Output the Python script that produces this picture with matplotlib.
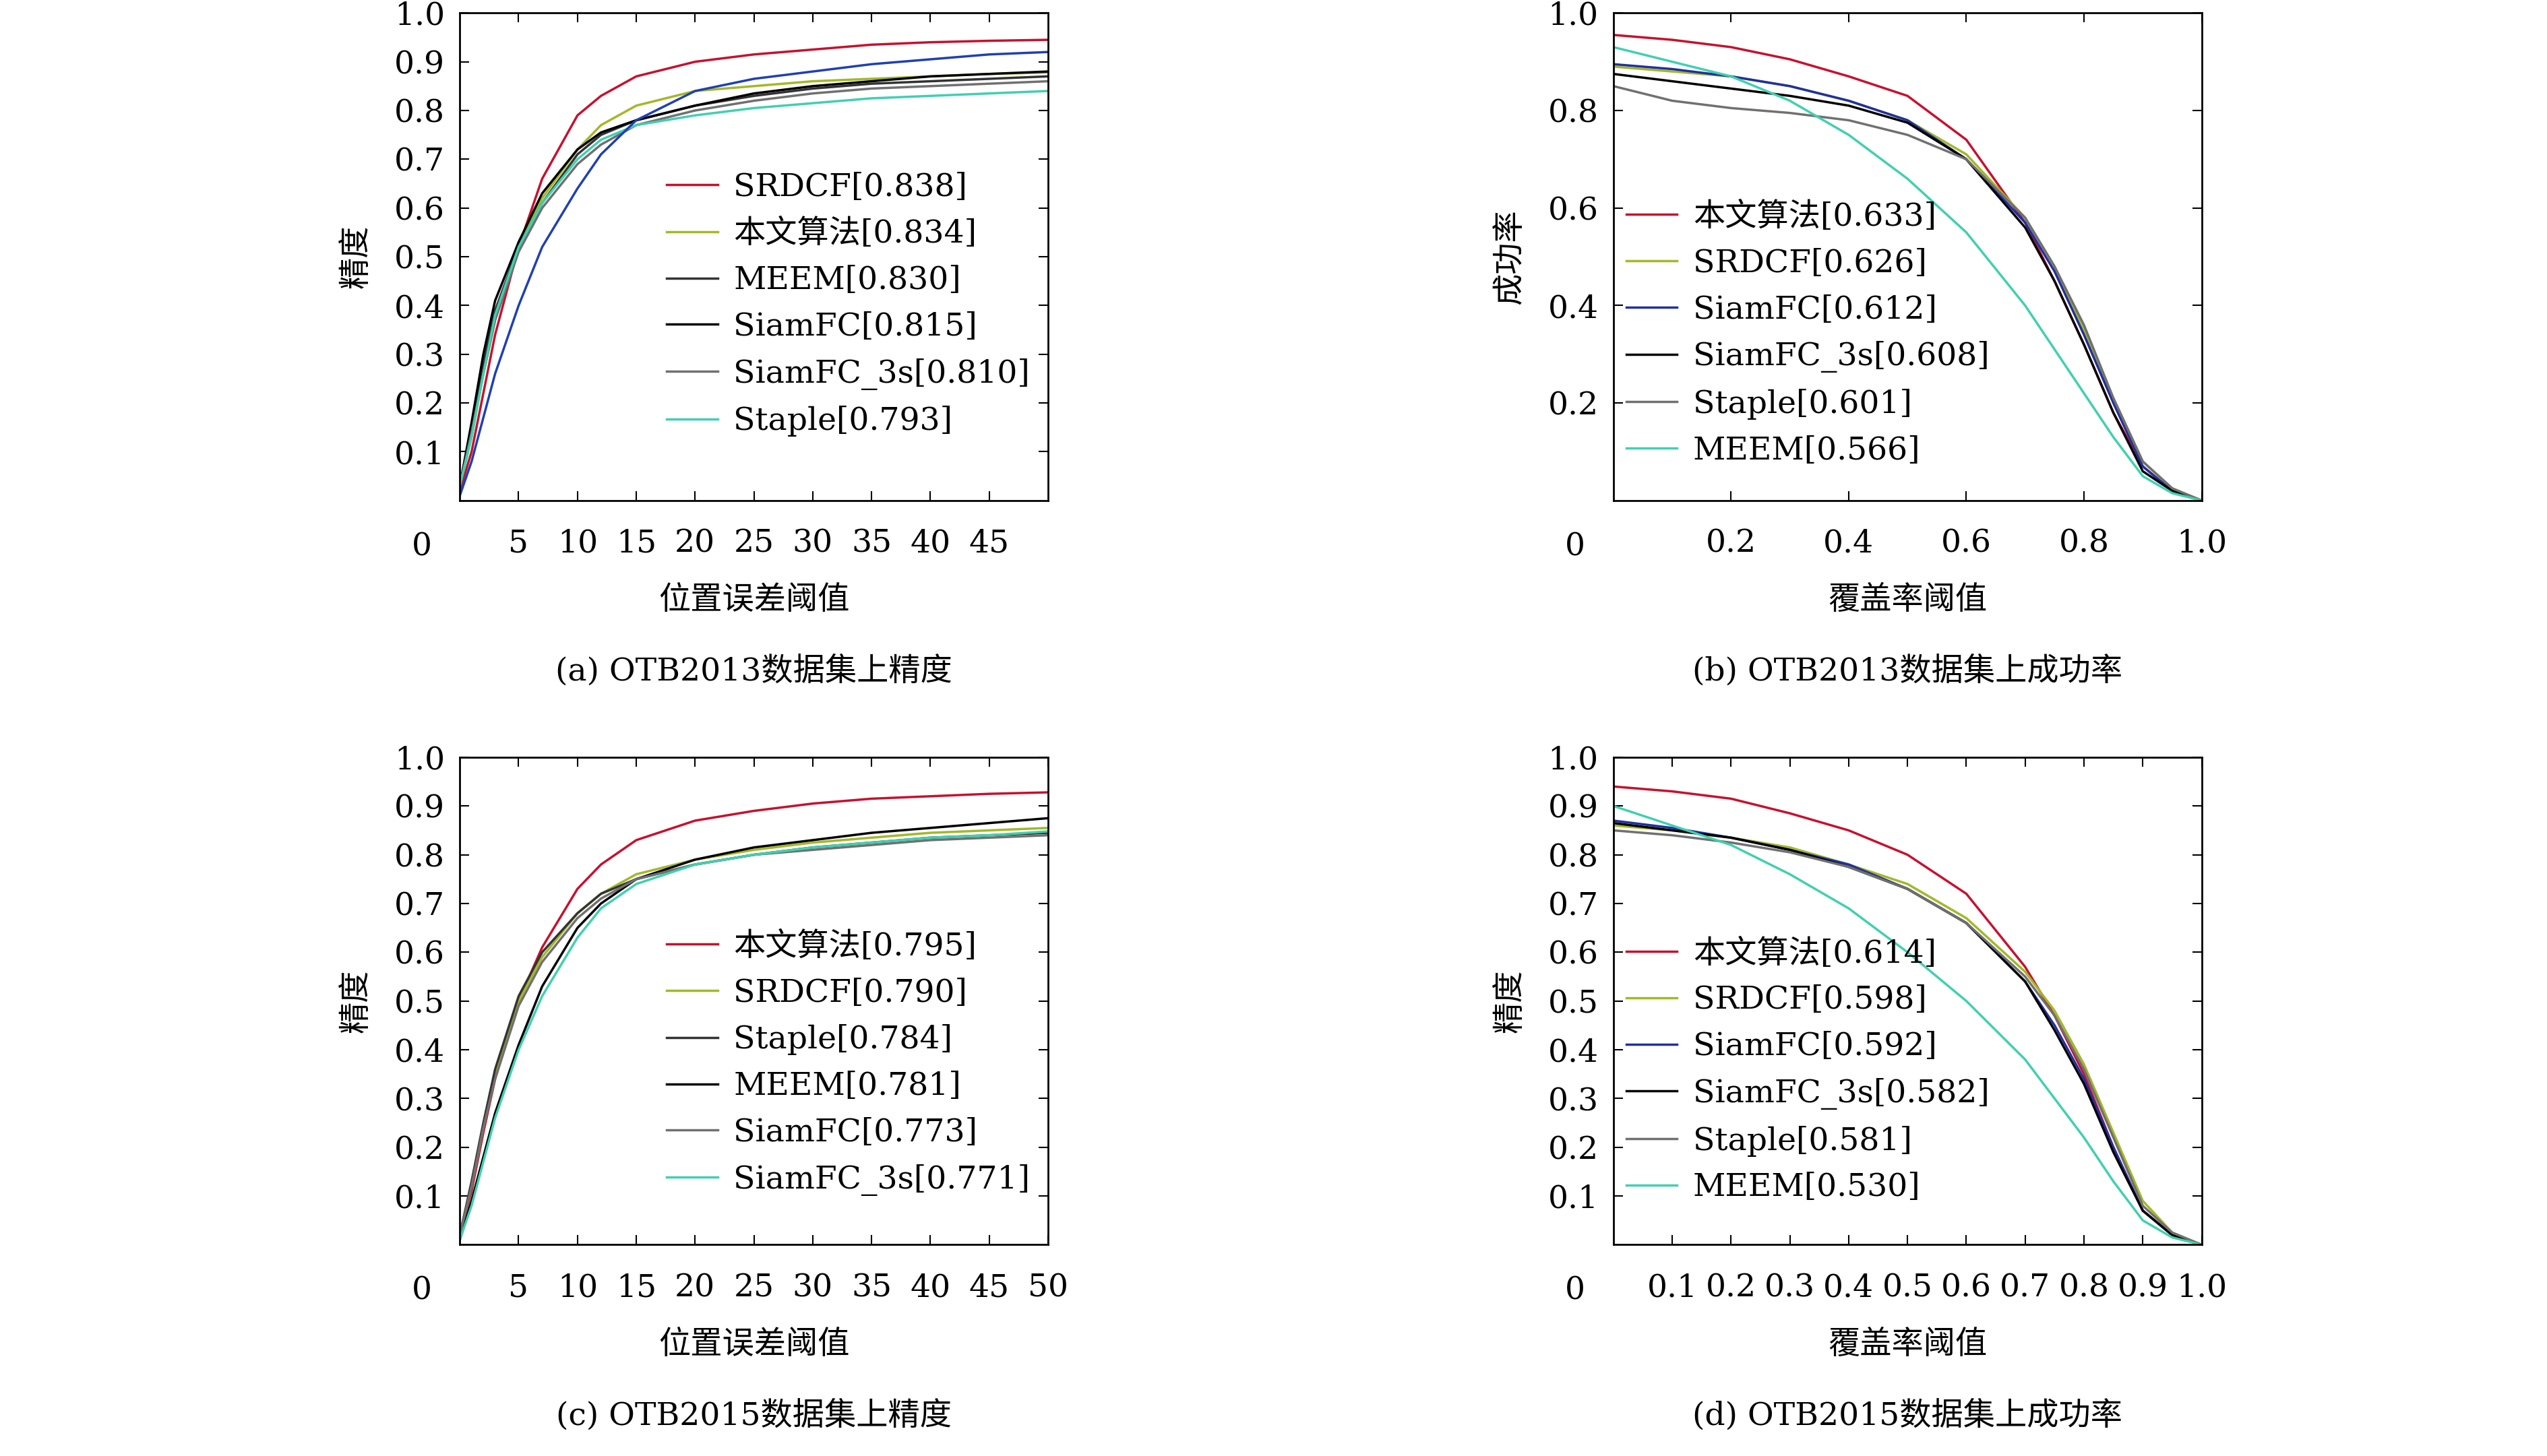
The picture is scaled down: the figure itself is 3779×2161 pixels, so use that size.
import numpy as np
import matplotlib.pyplot as plt

plt.rcParams['font.family'] = ['DejaVu Serif', 'Noto Sans CJK SC']
plt.rcParams['font.size'] = 34

# ---- data ----
xa = [0, 1, 2, 3, 5, 7, 10, 12, 15, 20, 25, 30, 35, 40, 45, 50]
a_names = ['SRDCF[0.838]', '本文算法[0.834]', 'MEEM[0.830]', 'SiamFC[0.815]', 'SiamFC_3s[0.810]', 'Staple[0.793]', None]
a_vals = [
    [0.02, 0.10, 0.22, 0.34, 0.52, 0.66, 0.79, 0.83, 0.87, 0.90, 0.915, 0.925, 0.935, 0.94, 0.943, 0.945],
    [0.03, 0.13, 0.26, 0.37, 0.53, 0.62, 0.72, 0.77, 0.81, 0.84, 0.85, 0.86, 0.865, 0.87, 0.875, 0.878],
    [0.03, 0.14, 0.28, 0.39, 0.52, 0.61, 0.71, 0.75, 0.78, 0.81, 0.83, 0.845, 0.855, 0.86, 0.865, 0.87],
    [0.03, 0.16, 0.30, 0.41, 0.53, 0.63, 0.72, 0.755, 0.78, 0.81, 0.835, 0.85, 0.86, 0.87, 0.875, 0.88],
    [0.03, 0.14, 0.26, 0.37, 0.51, 0.60, 0.69, 0.73, 0.77, 0.80, 0.82, 0.835, 0.845, 0.85, 0.855, 0.86],
    [0.03, 0.13, 0.26, 0.38, 0.52, 0.61, 0.70, 0.74, 0.77, 0.79, 0.805, 0.815, 0.825, 0.83, 0.835, 0.84],
    [0.01, 0.08, 0.17, 0.26, 0.40, 0.52, 0.64, 0.71, 0.78, 0.84, 0.865, 0.88, 0.895, 0.905, 0.915, 0.92],
]
a_cols = ['#c8102e', '#a4b827', '#333333', '#000000', '#707070', '#40d0b0', '#2040b0']

xb = [0, 0.1, 0.2, 0.3, 0.4, 0.5, 0.6, 0.7, 0.75, 0.8, 0.85, 0.9, 0.95, 1.0]
b_names = ['本文算法[0.633]', 'SRDCF[0.626]', 'SiamFC[0.612]', 'SiamFC_3s[0.608]', 'Staple[0.601]', 'MEEM[0.566]']
b_vals = [
    [0.955, 0.945, 0.93, 0.905, 0.87, 0.83, 0.74, 0.57, 0.45, 0.32, 0.18, 0.07, 0.02, 0.0],
    [0.89, 0.88, 0.87, 0.85, 0.82, 0.78, 0.71, 0.58, 0.48, 0.35, 0.21, 0.08, 0.025, 0.0],
    [0.895, 0.885, 0.87, 0.85, 0.82, 0.78, 0.70, 0.57, 0.47, 0.34, 0.20, 0.07, 0.02, 0.0],
    [0.875, 0.86, 0.845, 0.83, 0.81, 0.775, 0.70, 0.56, 0.45, 0.32, 0.18, 0.06, 0.02, 0.0],
    [0.85, 0.82, 0.805, 0.795, 0.78, 0.75, 0.70, 0.58, 0.48, 0.36, 0.21, 0.08, 0.025, 0.0],
    [0.93, 0.90, 0.87, 0.82, 0.75, 0.66, 0.55, 0.40, 0.31, 0.22, 0.13, 0.05, 0.015, 0.0],
]
bd_cols = ['#c8102e', '#a4b827', '#2030a0', '#000000', '#707070', '#40d0b0']

c_names = ['本文算法[0.795]', 'SRDCF[0.790]', 'Staple[0.784]', 'MEEM[0.781]', 'SiamFC[0.773]', 'SiamFC_3s[0.771]']
c_vals = [
    [0.02, 0.11, 0.23, 0.34, 0.50, 0.61, 0.73, 0.78, 0.83, 0.87, 0.89, 0.905, 0.915, 0.92, 0.925, 0.928],
    [0.02, 0.12, 0.24, 0.35, 0.50, 0.59, 0.68, 0.72, 0.76, 0.79, 0.81, 0.825, 0.835, 0.845, 0.85, 0.855],
    [0.02, 0.13, 0.25, 0.36, 0.51, 0.60, 0.68, 0.72, 0.75, 0.78, 0.80, 0.815, 0.825, 0.835, 0.84, 0.845],
    [0.01, 0.09, 0.18, 0.27, 0.41, 0.53, 0.65, 0.70, 0.75, 0.79, 0.815, 0.83, 0.845, 0.855, 0.865, 0.875],
    [0.02, 0.12, 0.24, 0.34, 0.49, 0.58, 0.67, 0.71, 0.75, 0.78, 0.80, 0.81, 0.82, 0.83, 0.835, 0.84],
    [0.01, 0.08, 0.17, 0.26, 0.40, 0.51, 0.63, 0.69, 0.74, 0.78, 0.80, 0.815, 0.825, 0.835, 0.84, 0.848],
]
c_cols = ['#c8102e', '#a4b827', '#333333', '#000000', '#707070', '#40d0b0']

d_names = ['本文算法[0.614]', 'SRDCF[0.598]', 'SiamFC[0.592]', 'SiamFC_3s[0.582]', 'Staple[0.581]', 'MEEM[0.530]']
d_vals = [
    [0.94, 0.93, 0.915, 0.885, 0.85, 0.80, 0.72, 0.57, 0.47, 0.35, 0.20, 0.07, 0.02, 0.0],
    [0.86, 0.85, 0.835, 0.815, 0.78, 0.74, 0.67, 0.56, 0.48, 0.37, 0.23, 0.09, 0.025, 0.0],
    [0.87, 0.855, 0.835, 0.81, 0.78, 0.73, 0.66, 0.54, 0.45, 0.34, 0.20, 0.07, 0.02, 0.0],
    [0.865, 0.85, 0.835, 0.81, 0.775, 0.73, 0.66, 0.54, 0.44, 0.33, 0.19, 0.07, 0.02, 0.0],
    [0.85, 0.84, 0.825, 0.805, 0.775, 0.73, 0.66, 0.55, 0.47, 0.36, 0.22, 0.08, 0.025, 0.0],
    [0.90, 0.86, 0.82, 0.76, 0.69, 0.60, 0.50, 0.38, 0.30, 0.22, 0.13, 0.05, 0.015, 0.0],
]

fig = plt.figure(figsize=(37.8, 21.61), dpi=100)
W, H = 1568.0, 896.0

def make_ax(x0, y0, x1, y1):
    return fig.add_axes([x0 / W, 1 - y1 / H, (x1 - x0) / W, (y1 - y0) / H])

panels = [
    (make_ax(283, 8, 645, 308), xa, a_vals, a_names, a_cols, 50, np.arange(5, 50, 5), np.arange(0.1, 1.01, 0.1),
     '精度', '位置误差阈值', '(a) OTB2013数据集上精度', (0.33, 0.7), '%d', '%.1f'),
    (make_ax(993, 8, 1355, 308), xb, b_vals, b_names, bd_cols, 1.0, np.arange(0.2, 1.01, 0.2), np.arange(0.2, 1.01, 0.2),
     '成功率', '覆盖率阈值', '(b) OTB2013数据集上成功率', (0.0, 0.64), '%.1f', '%.1f'),
    (make_ax(283, 466, 645, 766), xa, c_vals, c_names, c_cols, 50, np.arange(5, 51, 5), np.arange(0.1, 1.01, 0.1),
     '精度', '位置误差阈值', '(c) OTB2015数据集上精度', (0.33, 0.67), '%d', '%.1f'),
    (make_ax(993, 466, 1355, 766), xb, d_vals, d_names, bd_cols, 1.0, np.arange(0.1, 1.01, 0.1), np.arange(0.1, 1.01, 0.1),
     '精度', '覆盖率阈值', '(d) OTB2015数据集上成功率', (0.0, 0.655), '%.1f', '%.1f'),
]

for ax, xs, vals, names, cols, xmax, xt, yt, ylab, xlab, cap, lpos, xf, yf in panels:
    for v, n, c in zip(vals, names, cols):
        ax.plot(xs, v, color=c, lw=2.5, label=n if n else '_nolegend_')
    ax.set_xlim(0, xmax)
    ax.set_ylim(0, 1.0)
    ax.set_xticks(xt)
    ax.set_xticklabels([xf % t for t in xt])
    ax.set_yticks(yt)
    ax.set_yticklabels([yf % t for t in yt])
    ax.tick_params(axis='x', direction='in', top=True, length=10, width=1.5, pad=30)
    ax.tick_params(axis='y', direction='in', right=True, length=10, width=1.5, pad=16)
    for s in ax.spines.values():
        s.set_linewidth(2)
    ax.text(-0.065, -0.095, '0', transform=ax.transAxes, ha='center', va='center')
    ax.set_ylabel(ylab, labelpad=24)
    ax.set_xlabel(xlab, labelpad=28)
    ax.text(0.5, -0.35, cap, transform=ax.transAxes, ha='center', va='center')
    ax.legend(loc='upper left', bbox_to_anchor=lpos, frameon=False, handlelength=1.6,
              labelspacing=0.5, handletextpad=0.5, borderaxespad=0)

fig.savefig('out.png')
